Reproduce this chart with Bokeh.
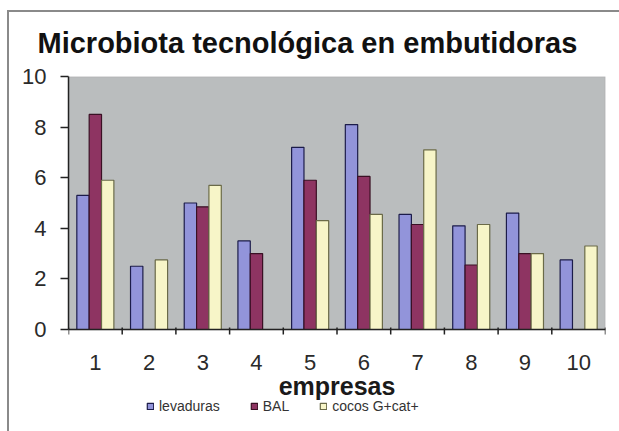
import numpy as np
from bokeh.plotting import figure
from bokeh.models import (ColumnDataSource, Range1d, FixedTicker, Legend, LegendItem, Title,
                          BoxAnnotation, Span)
from bokeh.core.properties import value
from bokeh.transform import dodge
from bokeh.embed import file_html
from bokeh.resources import INLINE

# ---- data ----
empresas = [1, 2, 3, 4, 5, 6, 7, 8, 9, 10]
tick_labels = ["1", "2", "3", "4", "5", "6", "7", "8", "9", "10"]
levaduras = [5.3, 2.5, 5.0, 3.5, 7.2, 8.1, 4.55, 4.1, 4.6, 2.75]
bal = [8.5, None, 4.85, 3.0, 5.9, 6.05, 4.15, 2.55, 3.0, None]
cocos = [5.9, 2.75, 5.7, None, 4.3, 4.55, 7.1, 4.15, 3.0, 3.3]
series_names = ["levaduras", "BAL", "cocos G+cat+"]
title_text = "Microbiota tecnológica en embutidoras"
x_title = "empresas"
y_ticks = [0, 2, 4, 6, 8, 10]

def arr(v):
    return np.array([np.nan if a is None else a for a in v], dtype=float)

source = ColumnDataSource(dict(x=empresas, lev=arr(levaduras), bal=arr(bal), coc=arr(cocos),
                               lab=tick_labels))
bounds = [e - 0.5 for e in empresas] + [empresas[-1] + 0.5]
tick_src = ColumnDataSource(dict(b=bounds))

FONT = "Liberation Sans"

p = figure(frame_width=537, frame_height=349, output_backend="svg", toolbar_location=None,
           x_range=Range1d(0.5, 10.5), y_range=Range1d(-3.794, 10),
           x_axis_location=None,
           min_border_left=68, min_border_right=14, min_border_top=76, min_border_bottom=6,
           background_fill_color=None, border_fill_color=None,
           outline_line_color=None, title=None)
p.styles = {"box-shadow": "inset 7px 10px 0 0 #ffffff, inset 9px 12px 0 0 #8a8a8a"}

p.xgrid.visible = False
p.ygrid.visible = False

# gray plot area
p.add_layout(BoxAnnotation(bottom=0, top=10, fill_color="#babdbe", fill_alpha=1.0,
                           line_color="#8a8a8a", line_width=1.5, level="underlay"))

colors = ["#9294da", "#8e3462", "#f7f5c8"]
lines = ["#1c1c4a", "#3a1024", "#6a6a48"]
offs = [-0.23, 0.0, 0.23]
fields = ["lev", "bal", "coc"]
rends = []
for f, c, lc, o in zip(fields, colors, lines, offs):
    r = p.vbar(x=dodge("x", o), top=f, bottom=0, width=0.23, source=source,
               fill_color=c, line_color=lc, line_width=1.2)
    rends.append(r)

# x axis line, tick marks between categories, labels
p.add_layout(Span(location=0, dimension="width", line_color="#222222", line_width=1.5))
p.segment(x0="b", y0=0.08, x1="b", y1=-0.2, source=tick_src,
          line_color="#222222", line_width=1.5)
p.text(x="x", y=-1.30, text="lab", source=source, text_font=value(FONT),
       text_font_size="22px", text_color="#2a2a2a", text_align="center",
       text_baseline="middle")
p.text(x=[5.5], y=[-2.25], text=[x_title], text_font=value(FONT), text_font_style="bold",
       text_font_size="25px", text_color="#1a1a1a", text_align="center",
       text_baseline="middle")

ya = p.yaxis[0]
ya.ticker = FixedTicker(ticks=y_ticks, minor_ticks=[])
ya.bounds = (0, 10)
ya.major_tick_out = 8
ya.major_tick_in = 0
ya.major_tick_line_color = "#222222"
ya.major_tick_line_width = 1.5
ya.major_label_standoff = 14
ya.major_label_text_font = FONT
ya.major_label_text_font_size = "22px"
ya.major_label_text_color = "#2a2a2a"
ya.axis_line_color = "#222222"
ya.axis_line_width = 1.5

# title
p.add_layout(Title(text=title_text, text_font=FONT, text_font_style="bold",
                   text_font_size="29px", align="left", offset=-31, text_color="#111111",
                   standoff=36), "above")

legend = Legend(items=[LegendItem(label=n, renderers=[r]) for n, r in zip(series_names, rends)],
                orientation="horizontal", location=(78, 11),
                label_text_font=FONT, label_text_font_size="14px", label_text_color="#333333",
                glyph_width=8, glyph_height=8, label_standoff=5, spacing=30,
                padding=2, margin=0, border_line_color=None, background_fill_alpha=0)
p.add_layout(legend)

open("out.html", "w").write(file_html(p, INLINE))
